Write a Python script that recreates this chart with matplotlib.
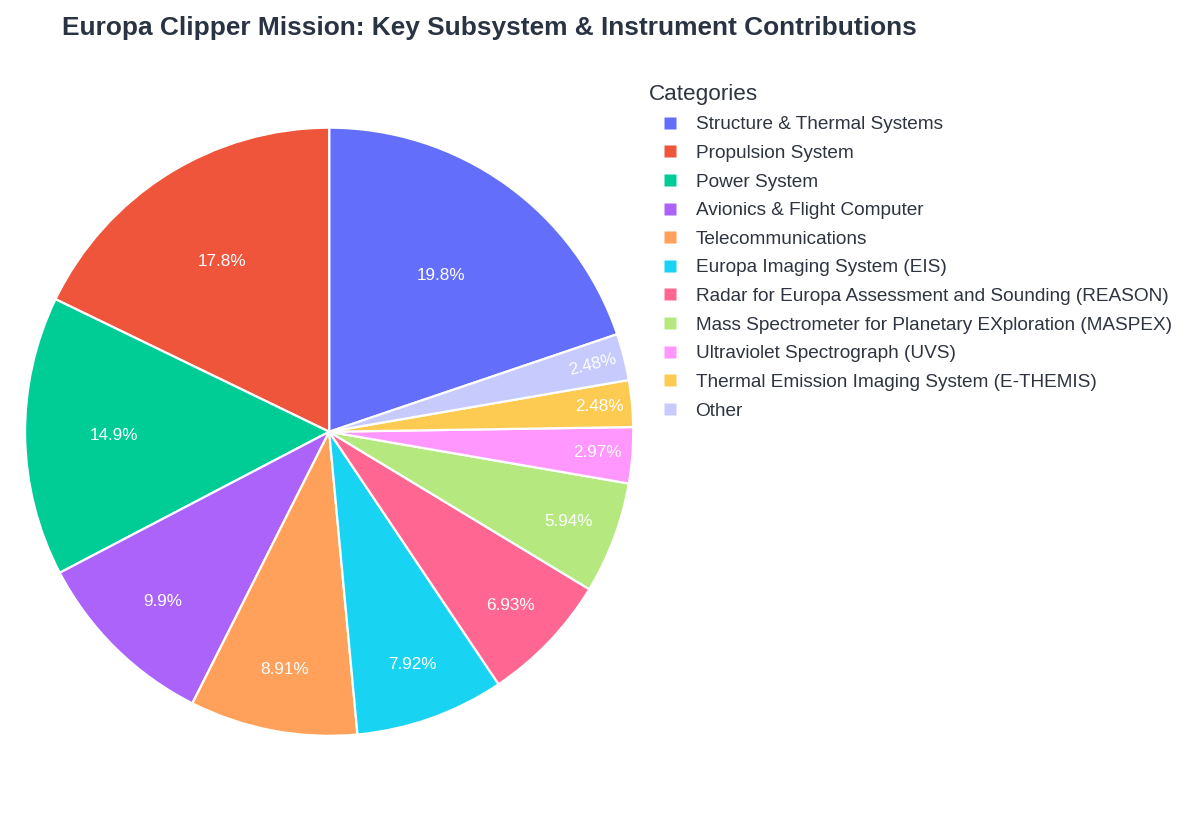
import matplotlib
matplotlib.use("Agg")
import matplotlib.pyplot as plt
from matplotlib.lines import Line2D
import numpy as np

plt.rcParams['font.family'] = ['Liberation Sans', 'DejaVu Sans']

categories = [
    "Structure & Thermal Systems",
    "Propulsion System",
    "Power System",
    "Avionics & Flight Computer",
    "Telecommunications",
    "Europa Imaging System (EIS)",
    "Radar for Europa Assessment and Sounding (REASON)",
    "Mass Spectrometer for Planetary EXploration (MASPEX)",
    "Ultraviolet Spectrograph (UVS)",
    "Thermal Emission Imaging System (E-THEMIS)",
    "Other",
]
values = [20, 18, 15, 10, 9, 8, 7, 6, 3, 2.5, 2.5]
colors = ["#636EFA", "#EF553B", "#00CC96", "#AB63FA", "#FFA15A", "#19D3F3",
          "#FF6692", "#B6E880", "#FF97FF", "#FECB52", "#C6CAFD"]

title = "Europa Clipper Mission: Key Subsystem & Instrument Contributions"
title_col = "#2a3342"
text_col = "#2e3440"

fig = plt.figure(figsize=(12, 8.4), dpi=100)
ax = fig.add_axes([0.0208, 0.124, 0.507, 0.724])

total = float(sum(values))
start = 90 - 360 * values[0] / total
wedges, _ = ax.pie(values, colors=colors, startangle=start, counterclock=True,
                   radius=1.0, wedgeprops=dict(edgecolor="white", linewidth=1.6))
ax.set_xlim(-1, 1)
ax.set_ylim(-1, 1)
ax.set_aspect("equal")
ax.axis("off")

for w, v in zip(wedges, values):
    frac = v / total
    mid = 0.5 * (w.theta1 + w.theta2)
    d = 0.93 - 1.5 * frac
    x = d * np.cos(np.deg2rad(mid))
    y = d * np.sin(np.deg2rad(mid))
    pct = 100 * frac
    lab = f"{pct:.3g}%"
    m = ((mid + 180) % 360) - 180
    rot = m if (frac < 0.03 and abs(m) > 10 and abs(m) < 90) else 0
    ax.text(x, y, lab, ha="center", va="center", color="white",
            fontsize=12.3, rotation=rot, rotation_mode="anchor")

fig.text(62 / 1200, 1 - 28 / 840, title, ha="left", va="center",
         fontsize=18.9, fontweight="bold", color=title_col)

handles = [Line2D([0], [0], marker="s", linestyle="none", markersize=9,
                  markerfacecolor=c, markeredgecolor="none") for c in colors]
leg = fig.legend(handles, categories, loc="upper left",
                 bbox_to_anchor=(641 / 1200, 1 - 76 / 840), frameon=False,
                 title="Categories", alignment="left", fontsize=13.7,
                 title_fontsize=16.2, labelspacing=0.595, handlelength=2.2,
                 handletextpad=0.27, borderaxespad=0)
for t in leg.get_texts():
    t.set_color(text_col)
leg.get_title().set_color(text_col)

fig.savefig("out.png", dpi=100, facecolor="white")
